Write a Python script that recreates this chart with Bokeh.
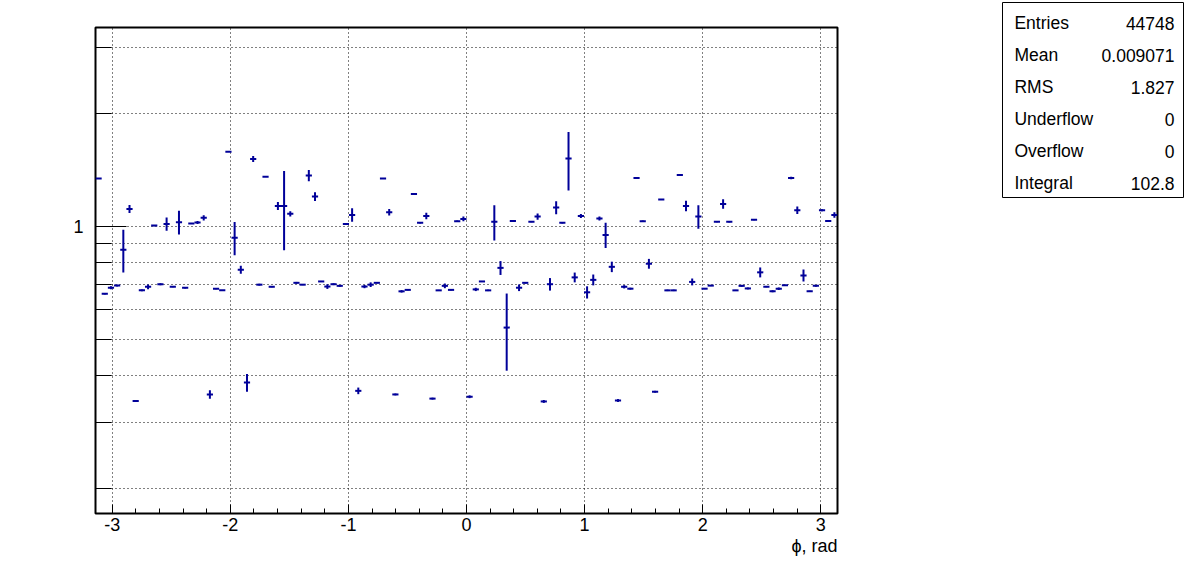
import numpy as np
from bokeh.plotting import figure
from bokeh.models import Range1d, FixedTicker, Title, ColumnDataSource
from bokeh.layouts import row
from bokeh.core.properties import value
from bokeh.embed import file_html
from bokeh.resources import INLINE

# ---- data ----
n_bins = 120
bin_values = [
    1.342, 0.662, 0.687, 0.696, 0.867, 1.114, 0.343, 0.676, 0.691, 1.006,
    0.702, 1.016, 0.691, 1.027, 0.687, 1.018, 1.025, 1.055, 0.357, 0.683,
    0.676, 1.583, 0.933, 0.767, 0.384, 1.514, 0.700, 1.358, 0.691, 1.135,
    1.135, 1.081, 0.708, 0.700, 1.367, 1.202, 0.714, 0.692, 0.702, 0.695,
    1.016, 1.074, 0.365, 0.692, 0.700, 0.708, 1.342, 1.092, 0.357, 0.672,
    0.678, 1.221, 1.023, 1.067, 0.348, 0.676, 0.695, 0.678, 1.033, 1.048,
    0.352, 0.680, 0.714, 0.676, 1.029, 0.776, 0.538, 1.035, 0.687, 0.708,
    1.029, 1.063, 0.342, 0.702, 1.123, 1.023, 1.517, 0.732, 1.067, 0.668,
    0.721, 1.050, 0.950, 0.781, 0.344, 0.691, 0.683, 1.347, 1.033, 0.796,
    0.363, 1.180, 0.676, 0.676, 1.372, 1.135, 0.712, 1.063, 0.683, 0.696,
    1.029, 1.149, 1.029, 0.676, 0.695, 0.684, 1.042, 0.755, 0.691, 0.672,
    0.683, 0.698, 1.347, 1.105, 0.741, 0.672, 0.695, 1.105, 1.035, 1.074,
]
bin_errors = [
    0.004, 0.003, 0.006, 0.004, 0.113, 0.027, 0.002, 0.004, 0.010, 0.004,
    0.004, 0.041, 0.002, 0.075, 0.003, 0.002, 0.010, 0.017, 0.0095, 0.002,
    0.002, 0.003, 0.095, 0.019, 0.021, 0.028, 0.004, 0.003, 0.002, 0.028,
    0.270, 0.018, 0.004, 0.002, 0.047, 0.032, 0.002, 0.010, 0.004, 0.004,
    0.002, 0.044, 0.0074, 0.007, 0.010, 0.002, 0.004, 0.022, 0.002, 0.005,
    0.002, 0.002, 0.004, 0.022, 0.002, 0.002, 0.010, 0.002, 0.004, 0.015,
    0.003, 0.007, 0.002, 0.003, 0.111, 0.033, 0.125, 0.002, 0.014, 0.003,
    0.002, 0.020, 0.003, 0.027, 0.044, 0.004, 0.270, 0.022, 0.013, 0.025,
    0.024, 0.013, 0.074, 0.025, 0.003, 0.007, 0.004, 0.002, 0.004, 0.024,
    0.002, 0.002, 0.003, 0.003, 0.002, 0.037, 0.015, 0.076, 0.002, 0.002,
    0.002, 0.033, 0.004, 0.002, 0.004, 0.004, 0.002, 0.023, 0.002, 0.004,
    0.005, 0.002, 0.010, 0.025, 0.027, 0.002, 0.004, 0.006, 0.004, 0.018,
]
x_tick_values = [-3, -2, -1, 0, 1, 2, 3]
x_tick_labels = ["-3", "-2", "-1", "0", "1", "2", "3"]
y_major_ticks = [1]
y_minor_ticks = [0.2, 0.3, 0.4, 0.5, 0.6, 0.7, 0.8, 0.9, 2, 3]
stat_names = ["Entries", "Mean", "RMS", "Underflow", "Overflow", "Integral"]
stat_values = ["44748", "0.009071", "1.827", "0", "0", "102.8"]
x_label = "\u03d5, rad"

# ---- derived ----
edges = np.linspace(-np.pi, np.pi, n_bins + 1)
centers = 0.5 * (edges[:-1] + edges[1:])
vals = np.array(bin_values)
errs = np.array(bin_errors)
src = ColumnDataSource(dict(
    x0=edges[:-1], x1=edges[1:], xc=centers,
    y=vals, ylo=vals - errs, yhi=vals + errs,
))

FONT = "Liberation Sans"
COL = "#000099"

p = figure(width=1002, height=558, x_range=Range1d(-np.pi, np.pi),
           y_range=Range1d(0.172, 3.39), y_axis_type="log",
           output_backend="svg", toolbar_location=None, title=None,
           min_border_left=95, min_border_right=165,
           min_border_top=27, min_border_bottom=45)
p.frame_align = False
p.background_fill_color = "white"
p.border_fill_color = "white"
p.outline_line_color = "black"
p.outline_line_width = 2

p.segment(x0="x0", x1="x1", y0="y", y1="y", source=src, line_color=COL, line_width=2)
p.segment(x0="xc", x1="xc", y0="ylo", y1="yhi", source=src, line_color=COL, line_width=2)

# x axis
minor_x = [round(v, 1) for v in np.arange(-3.0, 3.01, 0.2) if abs(v - round(v)) > 1e-6]
p.xaxis.ticker = FixedTicker(ticks=x_tick_values, minor_ticks=minor_x)
p.xaxis.major_label_overrides = {v: l for v, l in zip(x_tick_values, x_tick_labels)}
p.xaxis.major_tick_in = 9
p.xaxis.major_tick_out = 0
p.xaxis.minor_tick_in = 5
p.xaxis.minor_tick_out = 0
p.xaxis.axis_line_color = None
p.xaxis.major_label_standoff = 4
p.xaxis.major_label_text_font = FONT
p.xaxis.major_label_text_font_size = "18px"
p.xaxis.major_label_text_color = "black"
p.xaxis.major_tick_line_color = "black"
p.xaxis.minor_tick_line_color = "black"

# y axis
p.yaxis.ticker = FixedTicker(ticks=y_major_ticks, minor_ticks=y_minor_ticks)
p.yaxis.major_label_overrides = {1: "1"}
p.yaxis.major_tick_in = 31
p.yaxis.major_tick_out = 0
p.yaxis.minor_tick_in = 16
p.yaxis.minor_tick_out = 0
p.yaxis.axis_line_color = None
p.yaxis.major_label_standoff = 12
p.yaxis.major_label_text_font = FONT
p.yaxis.major_label_text_font_size = "18px"
p.yaxis.major_label_text_color = "black"
p.yaxis.major_tick_line_color = "black"
p.yaxis.minor_tick_line_color = "black"

# grids
for g in (p.xgrid, p.ygrid):
    g.grid_line_color = "black"
    g.grid_line_dash = "1 3"
    g.grid_line_width = 1
p.ygrid.minor_grid_line_color = "black"
p.ygrid.minor_grid_line_dash = "1 3"
p.ygrid.minor_grid_line_width = 1

p.add_layout(Title(text=x_label, align="right", text_font=FONT,
                   text_font_size="18px", text_font_style="normal",
                   text_color="black", standoff=0), "below")

# ---- statistics box ----
stats = figure(width=182, height=198, x_range=Range1d(0, 182),
               y_range=Range1d(5.95, -0.15),
               x_axis_location=None, y_axis_location=None,
               output_backend="svg", toolbar_location=None, title=None,
               min_border_left=0, min_border_right=1,
               min_border_top=2, min_border_bottom=1)
stats.frame_align = False
stats.grid.visible = False
stats.outline_line_color = "black"
stats.outline_line_width = 1
rows = [i + 0.5 for i in range(len(stat_names))]
stats.text(x=[12] * len(stat_names), y=rows, text=stat_names,
           text_font=value(FONT), text_font_size="17.5px", text_baseline="middle",
           text_align="left", text_color="black")
stats.text(x=[173] * len(stat_values), y=rows, text=stat_values,
           text_font=value(FONT), text_font_size="17.5px", text_baseline="middle",
           text_align="right", text_color="black")

layout = row(p, stats)
open("out.html", "w").write(file_html(layout, INLINE))
